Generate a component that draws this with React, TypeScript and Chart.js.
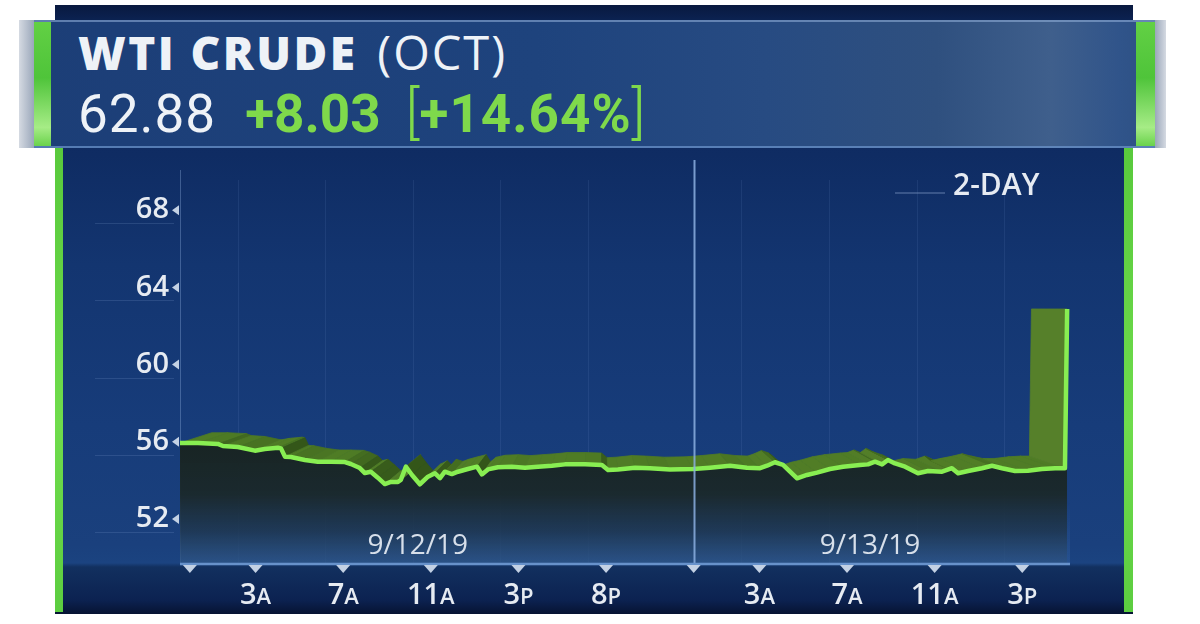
import React, { useEffect, useRef } from 'react';
import { Chart, registerables } from 'chart.js';

Chart.register(...registerables);

// ---------- DATA ----------
// trading hours since midnight 9/12/19 (market closed 5P-6P, so 8P = 19, 12A 9/13 = 23)
const hours = [
  -0.45, 0.37, 1.28, 1.51, 2.19, 2.97, 3.42, 4.02, 4.16, 4.34, 4.61, 5.25, 5.84, 6.44, 7.08, 7.35,
  7.76, 7.99, 8.26, 8.58, 8.9, 9.18, 9.5, 9.63, 9.86, 10.14, 10.5, 10.87, 11.19, 11.42, 11.64, 11.96,
  12.24, 12.69, 13.11, 13.33, 13.61, 14.06, 14.7, 15.3, 15.89, 16.53, 17.12, 18.04, 18.81, 19.09,
  19.54, 20.32, 21.0, 21.92, 22.97, 23.74, 24.66, 25.43, 26.03, 26.35, 26.71, 27.08, 27.4, 27.72,
  28.17, 28.63, 29.22, 29.82, 30.59, 30.96, 31.28, 31.6, 31.87, 32.19, 32.65, 33.24, 33.7, 34.34,
  34.79, 35.07, 35.53, 36.16, 36.62, 37.08, 37.67, 38.26, 38.9, 39.5, 39.95, 40.05,
];
const prices = [
  55.94, 55.94, 55.89, 55.78, 55.73, 55.54, 55.63, 55.69, 55.66, 55.23, 55.21, 55.06, 54.97, 54.97, 54.95, 54.85,
  54.64, 54.38, 54.45, 54.14, 53.81, 53.92, 53.92, 54.02, 54.71, 54.28, 53.8, 54.19, 54.37, 54.12, 54.45, 54.33,
  54.45, 54.59, 54.71, 54.31, 54.57, 54.68, 54.71, 54.66, 54.71, 54.76, 54.83, 54.83, 54.8, 54.54,
  54.57, 54.66, 54.63, 54.57, 54.59, 54.66, 54.76, 54.66, 54.63, 54.76, 54.94, 54.8, 54.45, 54.11,
  54.28, 54.4, 54.59, 54.71, 54.8, 54.83, 54.97, 54.83, 55.06, 54.88, 54.71, 54.37, 54.49, 54.45,
  54.63, 54.37, 54.49, 54.63, 54.76, 54.63, 54.49, 54.5, 54.59, 54.63, 54.63, 62.88,
];

const yTicks = [52, 56, 60, 64, 68];
const xTickHours = [0, 3, 7, 11, 15, 19, 23, 26, 30, 34, 38];
const xTickNums = ['', '3', '7', '11', '3', '8', '', '3', '7', '11', '3'];
const xTickSuffix = ['', 'A', 'A', 'A', 'P', 'P', '', 'A', 'A', 'A', 'P'];
const dateLabels = ['9/12/19', '9/13/19'];
const dateLabelHours = [10.4, 31.05];
const dayDividerHour = 23;

const titleText = 'WTI CRUDE';
const contractText = '(OCT)';
const lastText = '62.88';
const changeText = '+8.03';
const pctText = '+14.64%';
const rangeText = '2-DAY';

// ---------- STYLE ----------
const X_MIN = -0.45;
const X_MAX = 40.18;
const Y_MIN = 49.72;
const Y_MAX = 70.6;
const VANISH_HOUR = 18.6;
const VANISH_PRICE = 62.9;
const DEPTH = 0.076;
const LINE_GREEN = '#88ee52';
const TEXT = '#e6ebf2';

function mix(a: number[], b: number[], t: number) {
  return `rgb(${Math.round(a[0] + (b[0] - a[0]) * t)},${Math.round(a[1] + (b[1] - a[1]) * t)},${Math.round(a[2] + (b[2] - a[2]) * t)})`;
}

const ribbonPlugin = {
  id: 'ribbon',
  beforeDatasetDraw(chart: any, args: any) {
    if (args.index !== 0) return;
    const pts = chart.getDatasetMeta(0).data;
    const { ctx, chartArea, scales } = chart;
    const vx = scales.x.getPixelForValue(VANISH_HOUR);
    const vy = scales.y.getPixelForValue(VANISH_PRICE);
    const proj = (p: any) => ({ x: p.x + DEPTH * (vx - p.x), y: p.y + DEPTH * (vy - p.y) });
    ctx.save();
    ctx.beginPath();
    ctx.rect(chartArea.left, chartArea.top, chartArea.right - chartArea.left, chartArea.bottom - chartArea.top);
    ctx.clip();
    const flat = [79, 124, 37];
    const dark = [52, 86, 25];
    const lite = [86, 128, 42];
    for (let i = 0; i < pts.length - 1; i++) {
      const a = pts[i];
      const b = pts[i + 1];
      const a2 = proj(a);
      const b2 = proj(b);
      const dx = b.x - a.x;
      const dy = b.y - a.y;
      const len = Math.hypot(dx, dy) || 1;
      const s = Math.abs(dy) / len;
      const col = dy > 0 ? mix(flat, dark, Math.min(1, s * 1.3)) : mix(flat, lite, s);
      ctx.beginPath();
      ctx.moveTo(a.x, a.y);
      ctx.lineTo(b.x, b.y);
      ctx.lineTo(b2.x, b2.y);
      ctx.lineTo(a2.x, a2.y);
      ctx.closePath();
      ctx.fillStyle = col;
      ctx.strokeStyle = col;
      ctx.lineWidth = 0.8;
      ctx.fill();
      ctx.stroke();
    }
    ctx.restore();
  },
};

const decorPlugin = {
  id: 'decor',
  beforeDatasetsDraw(chart: any) {
    const { ctx, chartArea, scales } = chart;
    ctx.save();
    // faint back-plane vertical lines
    ctx.strokeStyle = 'rgba(120,155,210,0.12)';
    ctx.lineWidth = 1;
    xTickHours.forEach((h, i) => {
      if (i === 0 || h === dayDividerHour) return;
      const x = Math.round(scales.x.getPixelForValue(h)) - 18 + 0.5;
      ctx.beginPath();
      ctx.moveTo(x, chartArea.top + 20);
      ctx.lineTo(x, chartArea.bottom);
      ctx.stroke();
    });
    // left axis line
    ctx.strokeStyle = 'rgba(150,180,225,0.35)';
    ctx.beginPath();
    ctx.moveTo(chartArea.left + 0.5, chartArea.top + 10);
    ctx.lineTo(chartArea.left + 0.5, chartArea.bottom);
    ctx.stroke();
    // glow near bottom axis
    const g = ctx.createLinearGradient(0, chartArea.bottom - 60, 0, chartArea.bottom);
    g.addColorStop(0, 'rgba(70,120,185,0)');
    g.addColorStop(1, 'rgba(70,120,185,0.28)');
    ctx.fillStyle = g;
    ctx.fillRect(chartArea.left, chartArea.bottom - 60, chartArea.right - chartArea.left, 60);
    ctx.restore();
  },
  afterDatasetsDraw(chart: any) {
    const { ctx, chartArea, scales } = chart;
    const xs = scales.x;
    const ys = scales.y;
    ctx.save();
    // day divider
    const dxp = Math.round(xs.getPixelForValue(dayDividerHour)) + 0.5;
    ctx.strokeStyle = 'rgba(140,175,225,0.85)';
    ctx.lineWidth = 2;
    ctx.beginPath();
    ctx.moveTo(dxp, chartArea.top);
    ctx.lineTo(dxp, chartArea.bottom);
    ctx.stroke();

    // date labels
    ctx.fillStyle = '#d7dfea';
    ctx.font = '400 28px "Open Sans"';
    ctx.textAlign = 'center';
    ctx.textBaseline = 'alphabetic';
    dateLabels.forEach((t, i) => {
      ctx.fillText(t, xs.getPixelForValue(dateLabelHours[i]), chartArea.bottom - 9);
    });

    // bottom axis line
    ctx.strokeStyle = '#6792cb';
    ctx.lineWidth = 2.5;
    ctx.beginPath();
    ctx.moveTo(chartArea.left, chartArea.bottom + 1);
    ctx.lineTo(chartArea.right, chartArea.bottom + 1);
    ctx.stroke();

    // x tick triangles + labels
    const bigFont = '600 29px "Open Sans"';
    const smallFont = '600 22px "Open Sans"';
    xTickHours.forEach((h, i) => {
      const x = xs.getPixelForValue(h);
      ctx.fillStyle = '#c3d1e4';
      ctx.beginPath();
      ctx.moveTo(x - 7, chartArea.bottom + 2);
      ctx.lineTo(x + 7, chartArea.bottom + 2);
      ctx.lineTo(x, chartArea.bottom + 10);
      ctx.closePath();
      ctx.fill();
      const num = xTickNums[i];
      const suf = xTickSuffix[i];
      if (!num) return;
      ctx.font = bigFont;
      const w1 = ctx.measureText(num).width;
      ctx.font = smallFont;
      const w2 = ctx.measureText(suf).width;
      const start = x - (w1 + w2) / 2;
      ctx.textAlign = 'left';
      ctx.fillStyle = TEXT;
      ctx.font = bigFont;
      ctx.fillText(num, start, chartArea.bottom + 41);
      ctx.font = smallFont;
      ctx.fillText(suf, start + w1, chartArea.bottom + 41);
    });

    // y tick triangles and label underlines
    yTicks.forEach((v) => {
      const y = ys.getPixelForValue(v);
      ctx.fillStyle = '#c3d1e4';
      ctx.beginPath();
      ctx.moveTo(chartArea.left - 1, y - 5);
      ctx.lineTo(chartArea.left - 1, y + 5);
      ctx.lineTo(chartArea.left - 8, y);
      ctx.closePath();
      ctx.fill();
      ctx.strokeStyle = 'rgba(130,160,210,0.2)';
      ctx.lineWidth = 1;
      ctx.beginPath();
      ctx.moveTo(chartArea.left - 85, Math.round(y + 13) + 0.5);
      ctx.lineTo(chartArea.left - 6, Math.round(y + 13) + 0.5);
      ctx.stroke();
    });

    // range legend
    ctx.fillStyle = TEXT;
    ctx.font = '600 30px "Open Sans"';
    ctx.textAlign = 'left';
    ctx.fillText(rangeText, 953, 195);
    ctx.strokeStyle = 'rgba(140,165,205,0.45)';
    ctx.lineWidth = 1.5;
    ctx.beginPath();
    ctx.moveTo(895, 193);
    ctx.lineTo(945, 193);
    ctx.stroke();
    ctx.restore();
  },
};

export default function App() {
  const ref = useRef<HTMLCanvasElement | null>(null);

  useEffect(() => {
    if (!ref.current) return;
    const points = hours.map((h, i) => ({ x: h, y: prices[i] }));
    const chart = new Chart(ref.current, {
      type: 'line',
      data: {
        datasets: [
          {
            data: points,
            borderColor: LINE_GREEN,
            borderWidth: 4.5,
            borderJoinStyle: 'round',
            pointRadius: 0,
            tension: 0,
            fill: 'start',
            backgroundColor: (c: any) => {
              const { chart: ch } = c;
              const area = ch.chartArea;
              if (!area) return 'rgba(0,0,0,0)';
              const top = ch.scales.y.getPixelForValue(56.2);
              const g = ch.ctx.createLinearGradient(0, top, 0, area.bottom);
              g.addColorStop(0, 'rgba(24,36,34,1)');
              g.addColorStop(0.45, 'rgba(27,41,44,0.97)');
              g.addColorStop(0.75, 'rgba(31,55,80,0.85)');
              g.addColorStop(1, 'rgba(44,82,130,0.7)');
              return g;
            },
          },
        ],
      },
      options: {
        responsive: false,
        animation: false,
        devicePixelRatio: 1,
        layout: { padding: { left: 90, right: 130, top: 160, bottom: 61 } },
        plugins: { legend: { display: false }, tooltip: { enabled: false } },
        scales: {
          x: {
            type: 'linear',
            display: false,
            min: X_MIN,
            max: X_MAX,
          },
          y: {
            type: 'linear',
            position: 'left',
            min: Y_MIN,
            max: Y_MAX,
            afterBuildTicks: (s: any) => {
              s.ticks = yTicks.map((v) => ({ value: v }));
            },
            afterFit: (s: any) => {
              s.width = 90;
            },
            grid: { display: false, drawTicks: false },
            border: { display: false },
            ticks: {
              padding: 11,
              color: TEXT,
              font: { family: '"Open Sans"', size: 29, weight: '600' },
            },
          },
        },
      },
      plugins: [ribbonPlugin, decorPlugin],
    } as any);
    return () => chart.destroy();
  }, []);

  const abs = (l: number, t: number, w: number, h: number): React.CSSProperties => ({
    position: 'absolute',
    left: l,
    top: t,
    width: w,
    height: h,
  });

  return (
    <div style={{ position: 'fixed', left: 0, top: 0, width: 1200, height: 624, background: '#ffffff', overflow: 'hidden' }}>
      {/* main panel */}
      <div
        style={{
          ...abs(55, 5, 1078, 609),
          background:
            'linear-gradient(180deg, #09193f 0px, #0c2557 20px, #0f2c63 150px, #133570 260px, #173c7a 420px, #1a407d 540px, #1b4380 558px, #12305f 562px, #0c2251 595px, #061332 609px)',
        }}
      />
      <div style={{ ...abs(55, 140, 8, 472), background: 'linear-gradient(180deg,#58c93c,#6fdc4c 60%,#5ccd40)' }} />
      <div style={{ ...abs(1124, 140, 9, 472), background: 'linear-gradient(180deg,#58c93c,#6fdc4c 60%,#5ccd40)' }} />

      {/* header band */}
      <div
        style={{
          ...abs(19, 20, 1147, 128),
          background:
            'linear-gradient(90deg, #1c3e77 0%, #1e437d 45%, #274b82 65%, #2f507f 80%, #3f5f8c 90%, #30548a 96%, #2c4e80 100%)',
          borderTop: '2px solid rgba(150,180,220,0.55)',
          borderBottom: '2px solid rgba(110,150,205,0.7)',
          boxSizing: 'border-box',
        }}
      />
      <div style={{ ...abs(19, 20, 15, 128), background: 'linear-gradient(90deg,#d5dae2,#9aa7ba)' }} />
      <div style={{ ...abs(34, 22, 17, 124), background: 'linear-gradient(180deg,#62d044,#4fc43a 45%,#a6ec86 85%,#6ad24c)' }} />
      <div style={{ ...abs(1136, 22, 19, 124), background: 'linear-gradient(180deg,#62d044,#4fc43a 45%,#a6ec86 85%,#6ad24c)' }} />
      <div style={{ ...abs(1155, 20, 11, 128), background: 'linear-gradient(90deg,#9aa7ba,#d5dae2)' }} />

      {/* header text */}
      <div
        style={{
          position: 'absolute',
          left: 78,
          top: 29,
          lineHeight: 1,
          whiteSpace: 'nowrap',
          fontFamily: '"Open Sans", sans-serif',
          fontSize: 46,
          color: '#eef2f7',
        }}
      >
        <span style={{ fontWeight: 800, letterSpacing: 2.4 }}>{titleText}</span>
        <span style={{ fontWeight: 400, marginLeft: 20, fontSize: 47, letterSpacing: 2 }}>{contractText}</span>
      </div>
      <div
        style={{
          position: 'absolute',
          left: 78,
          top: 83,
          lineHeight: 1,
          whiteSpace: 'nowrap',
          fontFamily: 'Roboto, sans-serif',
          fontSize: 53,
        }}
      >
        <span style={{ color: '#eef2f7', fontWeight: 400, letterSpacing: 1 }}>{lastText}</span>
        <span style={{ color: '#7fd94b', fontWeight: 700, marginLeft: 29 }}>{changeText}</span>
        <span style={{ color: '#7fd94b', fontWeight: 300, marginLeft: 25, fontSize: 58 }}>[</span>
        <span style={{ color: '#7fd94b', fontWeight: 700, letterSpacing: 1 }}>{pctText}</span>
        <span style={{ color: '#7fd94b', fontWeight: 300, fontSize: 58 }}>]</span>
      </div>

      <canvas ref={ref} width={1200} height={624} style={{ position: 'absolute', left: 0, top: 0, width: 1200, height: 624 }} />
    </div>
  );
}
